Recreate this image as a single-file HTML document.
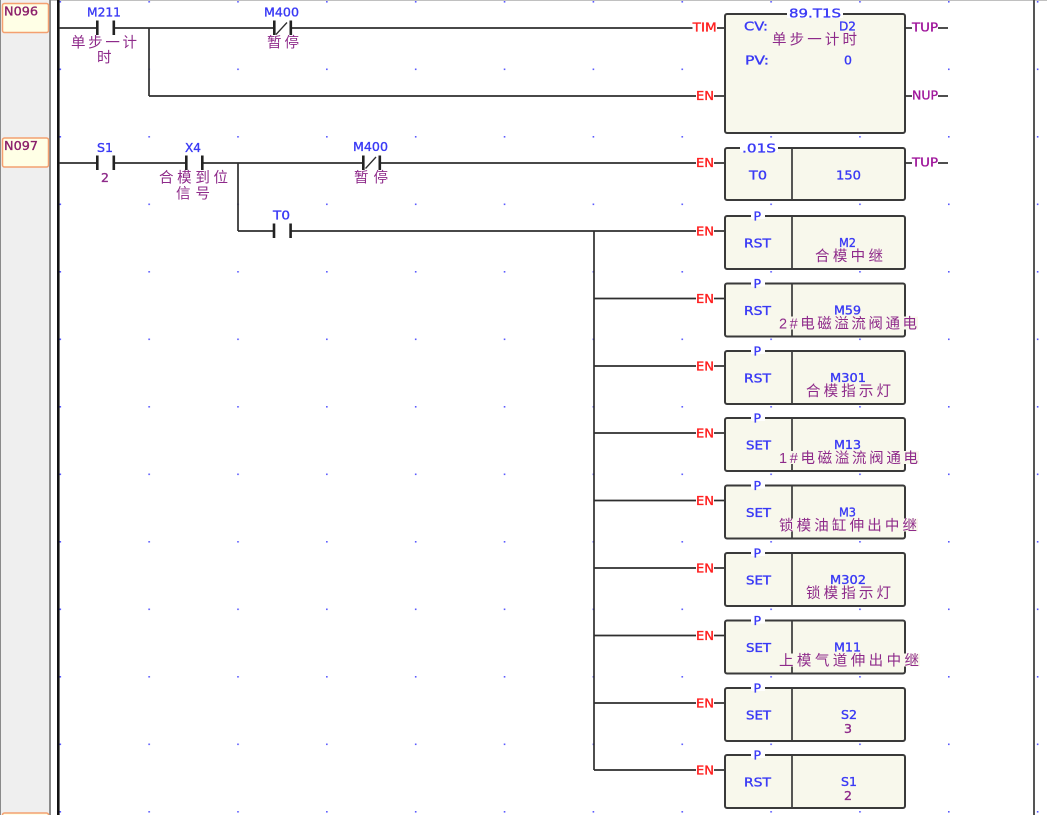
<!DOCTYPE html>
<html><head><meta charset="utf-8">
<style>
html,body{margin:0;padding:0;background:#fff;}
svg{display:block;}
.w{stroke:#2e2e2e;stroke-width:1.7;fill:none;}
.bar{fill:#222;}
.lat{font-family:"DejaVu Sans","Liberation Sans",sans-serif;font-size:12.5px;stroke-width:0.35px;}
.b{fill:#3a3af5;stroke:#3a3af5;}
.r{fill:#ff2020;stroke:#ff2020;}
.pu{fill:#a0189c;stroke:#a0189c;}
.cn{font-family:"Liberation Sans","Noto Sans CJK SC",sans-serif;font-size:14.5px;fill:#8e2a8a;}
.pd{fill:#8e2a8a;stroke:#8e2a8a;}
.box{fill:#f8f8ec;stroke:#3a3a3a;stroke-width:2;}
.cb{fill:#f8f8ec;}
.nl{fill:#8b1f6b;stroke:#8b1f6b;}
</style></head>
<body>
<svg width="1047" height="815" viewBox="0 0 1047 815" xmlns="http://www.w3.org/2000/svg">
<defs>
<pattern id="g" x="59.5" y="1" width="88.85" height="67.5" patternUnits="userSpaceOnUse">
<rect width="1.6" height="1.6" fill="#5a5aff"/>
</pattern>
</defs>
<rect width="1047" height="815" fill="#fff"/>
<!-- left panel -->
<rect x="0" y="0" width="50" height="815" fill="#efefef"/>
<rect x="0" y="0" width="1" height="815" fill="#8a8a8a"/>
<rect x="49" y="0" width="2" height="815" fill="#8a8a8a"/>
<line x1="51" y1="0.5" x2="1047" y2="0.5" stroke="#c0c0c0" stroke-width="1"/>
<!-- grid dots -->
<rect x="59" y="0" width="988" height="815" fill="url(#g)"/>
<!-- rails -->
<rect x="57" y="0" width="2.6" height="815" fill="#111"/>
<rect x="1033" y="0" width="2" height="815" fill="#555"/>

<!-- network labels -->
<rect x="2.5" y="3.5" width="46" height="29" rx="2" fill="#ffffe6" stroke="#f4a070" stroke-width="1.5"/>
<text x="4" y="15.7" class="lat nl" textLength="34" lengthAdjust="spacingAndGlyphs">N096</text>
<rect x="2.5" y="138" width="46" height="29" rx="2" fill="#ffffe6" stroke="#f4a070" stroke-width="1.5"/>
<text x="4" y="150" class="lat nl" textLength="34" lengthAdjust="spacingAndGlyphs">N097</text>
<rect x="2.5" y="813" width="46" height="29" rx="2" fill="#ffffe6" stroke="#f4a070" stroke-width="1.5"/>

<!-- ===== Rung 1 ===== -->
<line class="w" x1="59" y1="28" x2="97" y2="28"/>
<line class="w" x1="114" y1="28" x2="274" y2="28"/>
<line class="w" x1="291" y1="28" x2="692.5" y2="28"/>
<line class="w" x1="717" y1="28" x2="725" y2="28"/>
<line class="w" x1="149" y1="28" x2="149" y2="96"/>
<line class="w" x1="149" y1="96" x2="696" y2="96"/>
<line class="w" x1="714" y1="96" x2="725" y2="96"/>
<!-- M211 -->
<rect class="bar" x="96" y="20.5" width="2.6" height="14.5"/>
<rect class="bar" x="112.5" y="20.5" width="2.6" height="14.5"/>
<text x="87" y="16.7" class="lat b" textLength="34" lengthAdjust="spacingAndGlyphs">M211</text>
<text x="71" y="47.5" class="cn" textLength="66" lengthAdjust="spacing">单步一计</text>
<text x="97" y="62.5" class="cn">时</text>
<!-- M400 NC -->
<rect class="bar" x="273" y="20.5" width="2.6" height="14.5"/>
<rect class="bar" x="289.5" y="20.5" width="2.6" height="14.5"/>
<line x1="276" y1="34.5" x2="287" y2="22.5" stroke="#2e2e2e" stroke-width="1.3"/>
<text x="264" y="16.7" class="lat b" textLength="35" lengthAdjust="spacingAndGlyphs">M400</text>
<text x="267" y="47.5" class="cn" textLength="32" lengthAdjust="spacing">暂停</text>
<!-- TIM / EN -->
<text x="692.7" y="31.5" class="lat r" textLength="24" lengthAdjust="spacingAndGlyphs">TIM</text>
<text x="696" y="100" class="lat r" textLength="18" lengthAdjust="spacingAndGlyphs">EN</text>
<!-- Timer box -->
<rect class="box" x="725" y="14" width="180" height="119" rx="2"/>
<rect x="787" y="10" width="56" height="8" fill="#fff"/>
<text x="789" y="17.5" class="lat b" textLength="52" lengthAdjust="spacingAndGlyphs">89.T1S</text>
<text x="744" y="30.7" class="lat b" textLength="24" lengthAdjust="spacingAndGlyphs">CV:</text>
<text x="839" y="30.7" class="lat b" textLength="17" lengthAdjust="spacingAndGlyphs">D2</text>
<text x="772" y="44.5" class="cn" textLength="85" lengthAdjust="spacing">单步一计时</text>
<text x="745" y="64.5" class="lat b" textLength="24" lengthAdjust="spacingAndGlyphs">PV:</text>
<text x="844" y="64.5" class="lat b">0</text>
<line class="w" x1="905" y1="28" x2="912" y2="28"/>
<text x="912" y="31.5" class="lat pu" textLength="26" lengthAdjust="spacingAndGlyphs">TUP</text>
<line class="w" x1="938" y1="28" x2="948" y2="28"/>
<line class="w" x1="905" y1="96" x2="912" y2="96"/>
<text x="912" y="99.5" class="lat pu" textLength="26" lengthAdjust="spacingAndGlyphs">NUP</text>
<line class="w" x1="938" y1="96" x2="948" y2="96"/>

<!-- ===== Rung 2 ===== -->
<line class="w" x1="59" y1="163" x2="97" y2="163"/>
<line class="w" x1="114" y1="163" x2="186" y2="163"/>
<line class="w" x1="203" y1="163" x2="363" y2="163"/>
<line class="w" x1="380" y1="163" x2="696" y2="163"/>
<line class="w" x1="714" y1="163" x2="725" y2="163"/>
<line class="w" x1="238" y1="163" x2="238" y2="231"/>
<line class="w" x1="238" y1="231" x2="274" y2="231"/>
<line class="w" x1="291" y1="231" x2="696" y2="231"/>
<line class="w" x1="594" y1="231" x2="594" y2="770"/>
<!-- S1 -->
<rect class="bar" x="96" y="155.5" width="2.6" height="14.5"/>
<rect class="bar" x="112.5" y="155.5" width="2.6" height="14.5"/>
<text x="97" y="152" class="lat b" textLength="16" lengthAdjust="spacingAndGlyphs">S1</text>
<text x="101" y="182" class="lat pd">2</text>
<!-- X4 -->
<rect class="bar" x="185" y="155.5" width="2.6" height="14.5"/>
<rect class="bar" x="201" y="155.5" width="2.6" height="14.5"/>
<text x="185" y="152" class="lat b" textLength="16" lengthAdjust="spacingAndGlyphs">X4</text>
<text x="159" y="182.5" class="cn" textLength="69" lengthAdjust="spacing">合模到位</text>
<text x="176" y="198.5" class="cn" textLength="34" lengthAdjust="spacing">信号</text>
<!-- M400 NC -->
<rect class="bar" x="362" y="155.5" width="2.6" height="14.5"/>
<rect class="bar" x="378.5" y="155.5" width="2.6" height="14.5"/>
<line x1="365.5" y1="168.5" x2="376" y2="157" stroke="#2e2e2e" stroke-width="1.3"/>
<text x="353" y="151" class="lat b" textLength="35" lengthAdjust="spacingAndGlyphs">M400</text>
<text x="354" y="182.5" class="cn" textLength="34" lengthAdjust="spacing">暂停</text>
<!-- T0 contact -->
<rect class="bar" x="272.7" y="223.5" width="2.6" height="14.5"/>
<rect class="bar" x="289.3" y="223.5" width="2.6" height="14.5"/>
<text x="273" y="219.5" class="lat b" textLength="17" lengthAdjust="spacingAndGlyphs">T0</text>
<!-- EN + .01S box -->
<text x="696" y="167" class="lat r" textLength="18" lengthAdjust="spacingAndGlyphs">EN</text>
<rect class="box" x="725" y="148" width="180" height="52" rx="2"/>
<line x1="792" y1="148" x2="792" y2="200" stroke="#3a3a3a" stroke-width="1.7"/>
<rect x="740" y="144" width="38" height="8" fill="#fff"/>
<text x="742" y="152.5" class="lat b" textLength="34" lengthAdjust="spacingAndGlyphs">.01S</text>
<text x="749" y="179.5" class="lat b" textLength="18" lengthAdjust="spacingAndGlyphs">T0</text>
<text x="836" y="179.5" class="lat b" textLength="25" lengthAdjust="spacingAndGlyphs">150</text>
<line class="w" x1="905" y1="163" x2="912" y2="163"/>
<text x="912" y="166.5" class="lat pu" textLength="26" lengthAdjust="spacingAndGlyphs">TUP</text>
<line class="w" x1="938" y1="163" x2="948" y2="163"/>

<!-- ===== Output rows ===== -->
<!-- Row 0 Y=231 -->
<text x="696" y="235.5" class="lat r" textLength="18" lengthAdjust="spacingAndGlyphs">EN</text>
<line class="w" x1="714" y1="231" x2="725" y2="231"/>
<rect class="box" x="725" y="216" width="180" height="53" rx="2"/>
<line x1="792" y1="216" x2="792" y2="269" stroke="#3a3a3a" stroke-width="1.7"/>
<rect x="751" y="212" width="14" height="7" fill="#fff"/>
<text x="753.5" y="220.5" class="lat b">P</text>
<text x="744" y="247.5" class="lat b" textLength="27" lengthAdjust="spacingAndGlyphs">RST</text>
<text x="839" y="247" class="lat b" textLength="17" lengthAdjust="spacingAndGlyphs">M2</text>
<rect class="cb" x="814" y="249" width="70" height="13"/>
<text x="815" y="261" class="cn" textLength="68" lengthAdjust="spacing">合模中继</text>

<!-- Row 1 Y=298.5 -->
<line class="w" x1="594" y1="298.5" x2="696" y2="298.5"/>
<text x="696" y="303" class="lat r" textLength="18" lengthAdjust="spacingAndGlyphs">EN</text>
<line class="w" x1="714" y1="298.5" x2="725" y2="298.5"/>
<rect class="box" x="725" y="283.5" width="180" height="53" rx="2"/>
<line x1="792" y1="283.5" x2="792" y2="336.5" stroke="#3a3a3a" stroke-width="1.7"/>
<rect x="751" y="279.5" width="14" height="7" fill="#fff"/>
<text x="753.5" y="288" class="lat b">P</text>
<text x="744" y="315" class="lat b" textLength="27" lengthAdjust="spacingAndGlyphs">RST</text>
<text x="834" y="314.5" class="lat b" textLength="27" lengthAdjust="spacingAndGlyphs">M59</text>
<rect class="cb" x="778" y="316.5" width="140" height="13"/>
<text x="779" y="328.5" class="cn" textLength="138" lengthAdjust="spacing">2#电磁溢流阀通电</text>

<!-- Row 2 Y=366 -->
<line class="w" x1="594" y1="366" x2="696" y2="366"/>
<text x="696" y="370.5" class="lat r" textLength="18" lengthAdjust="spacingAndGlyphs">EN</text>
<line class="w" x1="714" y1="366" x2="725" y2="366"/>
<rect class="box" x="725" y="351" width="180" height="53" rx="2"/>
<line x1="792" y1="351" x2="792" y2="404" stroke="#3a3a3a" stroke-width="1.7"/>
<rect x="751" y="347" width="14" height="7" fill="#fff"/>
<text x="753.5" y="355.5" class="lat b">P</text>
<text x="744" y="382.5" class="lat b" textLength="27" lengthAdjust="spacingAndGlyphs">RST</text>
<text x="830" y="382" class="lat b" textLength="36" lengthAdjust="spacingAndGlyphs">M301</text>
<rect class="cb" x="805" y="384" width="87" height="13"/>
<text x="806" y="396" class="cn" textLength="85" lengthAdjust="spacing">合模指示灯</text>

<!-- Row 3 Y=433 -->
<line class="w" x1="594" y1="433" x2="696" y2="433"/>
<text x="696" y="437.5" class="lat r" textLength="18" lengthAdjust="spacingAndGlyphs">EN</text>
<line class="w" x1="714" y1="433" x2="725" y2="433"/>
<rect class="box" x="725" y="418" width="180" height="53" rx="2"/>
<line x1="792" y1="418" x2="792" y2="471" stroke="#3a3a3a" stroke-width="1.7"/>
<rect x="751" y="414" width="14" height="7" fill="#fff"/>
<text x="753.5" y="422.5" class="lat b">P</text>
<text x="746" y="449.5" class="lat b" textLength="25" lengthAdjust="spacingAndGlyphs">SET</text>
<text x="834" y="449" class="lat b" textLength="27" lengthAdjust="spacingAndGlyphs">M13</text>
<rect class="cb" x="778" y="451" width="141" height="13"/>
<text x="779" y="463" class="cn" textLength="139" lengthAdjust="spacing">1#电磁溢流阀通电</text>

<!-- Row 4 Y=500.5 -->
<line class="w" x1="594" y1="500.5" x2="696" y2="500.5"/>
<text x="696" y="505" class="lat r" textLength="18" lengthAdjust="spacingAndGlyphs">EN</text>
<line class="w" x1="714" y1="500.5" x2="725" y2="500.5"/>
<rect class="box" x="725" y="485.5" width="180" height="53" rx="2"/>
<line x1="792" y1="485.5" x2="792" y2="538.5" stroke="#3a3a3a" stroke-width="1.7"/>
<rect x="751" y="481.5" width="14" height="7" fill="#fff"/>
<text x="753.5" y="490" class="lat b">P</text>
<text x="746" y="517" class="lat b" textLength="25" lengthAdjust="spacingAndGlyphs">SET</text>
<text x="839" y="516.5" class="lat b" textLength="17" lengthAdjust="spacingAndGlyphs">M3</text>
<rect class="cb" x="778" y="518.5" width="140" height="13"/>
<text x="779" y="530.5" class="cn" textLength="138" lengthAdjust="spacing">锁模油缸伸出中继</text>

<!-- Row 5 Y=568 -->
<line class="w" x1="594" y1="568" x2="696" y2="568"/>
<text x="696" y="572.5" class="lat r" textLength="18" lengthAdjust="spacingAndGlyphs">EN</text>
<line class="w" x1="714" y1="568" x2="725" y2="568"/>
<rect class="box" x="725" y="553" width="180" height="53" rx="2"/>
<line x1="792" y1="553" x2="792" y2="606" stroke="#3a3a3a" stroke-width="1.7"/>
<rect x="751" y="549" width="14" height="7" fill="#fff"/>
<text x="753.5" y="557.5" class="lat b">P</text>
<text x="746" y="584.5" class="lat b" textLength="25" lengthAdjust="spacingAndGlyphs">SET</text>
<text x="830" y="584" class="lat b" textLength="36" lengthAdjust="spacingAndGlyphs">M302</text>
<rect class="cb" x="805" y="586" width="87" height="13"/>
<text x="806" y="598" class="cn" textLength="85" lengthAdjust="spacing">锁模指示灯</text>

<!-- Row 6 Y=635.5 -->
<line class="w" x1="594" y1="635.5" x2="696" y2="635.5"/>
<text x="696" y="640" class="lat r" textLength="18" lengthAdjust="spacingAndGlyphs">EN</text>
<line class="w" x1="714" y1="635.5" x2="725" y2="635.5"/>
<rect class="box" x="725" y="620.5" width="180" height="53" rx="2"/>
<line x1="792" y1="620.5" x2="792" y2="673.5" stroke="#3a3a3a" stroke-width="1.7"/>
<rect x="751" y="616.5" width="14" height="7" fill="#fff"/>
<text x="753.5" y="625" class="lat b">P</text>
<text x="746" y="652" class="lat b" textLength="25" lengthAdjust="spacingAndGlyphs">SET</text>
<text x="834" y="651.5" class="lat b" textLength="27" lengthAdjust="spacingAndGlyphs">M11</text>
<rect class="cb" x="778" y="653.5" width="142" height="13"/>
<text x="779" y="665.5" class="cn" textLength="140" lengthAdjust="spacing">上模气道伸出中继</text>

<!-- Row 7 Y=703 -->
<line class="w" x1="594" y1="703" x2="696" y2="703"/>
<text x="696" y="707.5" class="lat r" textLength="18" lengthAdjust="spacingAndGlyphs">EN</text>
<line class="w" x1="714" y1="703" x2="725" y2="703"/>
<rect class="box" x="725" y="688" width="180" height="53" rx="2"/>
<line x1="792" y1="688" x2="792" y2="741" stroke="#3a3a3a" stroke-width="1.7"/>
<rect x="751" y="684" width="14" height="7" fill="#fff"/>
<text x="753.5" y="692.5" class="lat b">P</text>
<text x="746" y="719.5" class="lat b" textLength="25" lengthAdjust="spacingAndGlyphs">SET</text>
<text x="841" y="719" class="lat b" textLength="16" lengthAdjust="spacingAndGlyphs">S2</text>
<text x="844" y="733" class="lat pd">3</text>

<!-- Row 8 Y=770 -->
<line class="w" x1="594" y1="770" x2="696" y2="770"/>
<text x="696" y="774.5" class="lat r" textLength="18" lengthAdjust="spacingAndGlyphs">EN</text>
<line class="w" x1="714" y1="770" x2="725" y2="770"/>
<rect class="box" x="725" y="755" width="180" height="53" rx="2"/>
<line x1="792" y1="755" x2="792" y2="808" stroke="#3a3a3a" stroke-width="1.7"/>
<rect x="751" y="751" width="14" height="7" fill="#fff"/>
<text x="753.5" y="759.5" class="lat b">P</text>
<text x="744" y="786.5" class="lat b" textLength="27" lengthAdjust="spacingAndGlyphs">RST</text>
<text x="841" y="786" class="lat b" textLength="16" lengthAdjust="spacingAndGlyphs">S1</text>
<text x="844" y="800" class="lat pd">2</text>
</svg>
</body></html>
